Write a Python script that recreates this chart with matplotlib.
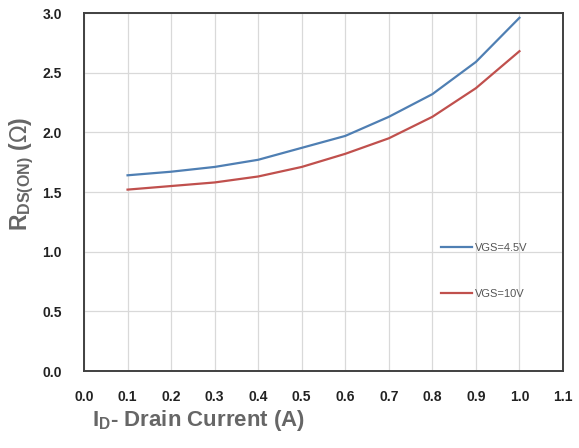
import matplotlib
matplotlib.use("Agg")
import matplotlib.pyplot as plt

current = [0.1, 0.2, 0.3, 0.4, 0.5, 0.6, 0.7, 0.8, 0.9, 1.0]
rds_vgs45 = [1.64, 1.67, 1.71, 1.77, 1.87, 1.97, 2.13, 2.32, 2.59, 2.96]
rds_vgs10 = [1.52, 1.55, 1.58, 1.63, 1.71, 1.82, 1.95, 2.13, 2.37, 2.68]
xticks = [0.0, 0.1, 0.2, 0.3, 0.4, 0.5, 0.6, 0.7, 0.8, 0.9, 1.0, 1.1]
yticks = [0.0, 0.5, 1.0, 1.5, 2.0, 2.5, 3.0]

plt.rcParams['font.family'] = ['Liberation Sans', 'DejaVu Sans']

fig = plt.figure(figsize=(5.79, 4.48), dpi=100)
ax = fig.add_axes([84/579, 1 - 371/448, (563-84)/579, (371-13)/448])

ax.plot(current, rds_vgs45, color='#4F7FB3', lw=1.6, label='VGS=4.5V')
ax.plot(current, rds_vgs10, color='#C0504D', lw=1.6, label='VGS=10V')

ax.set_xlim(0, 1.1)
ax.set_ylim(0, 3.0)
ax.set_xticks(xticks)
ax.set_yticks(yticks)
ax.set_xticklabels([f"{v:.1f}" for v in xticks], fontsize=10, fontweight='bold', color='#222222')
ax.set_yticklabels([f"{v:.1f}" for v in yticks], fontsize=10, fontweight='bold', color='#222222')
ax.tick_params(axis='both', length=0)
ax.tick_params(axis='x', pad=14)
ax.tick_params(axis='y', pad=16)
ax.grid(True, color='#d9d9d9', lw=0.9)
ax.set_axisbelow(True)
for s in ax.spines.values():
    s.set_color('#404040')
    s.set_linewidth(1.4)

leg = ax.legend(loc='upper left', bbox_to_anchor=(0.725, 0.385), frameon=False,
                fontsize=8, labelspacing=3.2, handlelength=2.8, handletextpad=0.2)
for t in leg.get_texts():
    t.set_color('#555555')

fig.text(92/579, 1 - 420/448, r'I$_\mathregular{D}$- Drain Current (A)', fontsize=16,
         color='#666666', fontweight='bold', ha='left', va='center')
fig.text(22/579, 1 - 174/448, r'R$_\mathregular{DS(ON)}$ ($\Omega$)', fontsize=16.5,
         color='#666666', fontweight='bold', rotation=90, ha='center', va='center')

fig.savefig('out.png', dpi=100)
